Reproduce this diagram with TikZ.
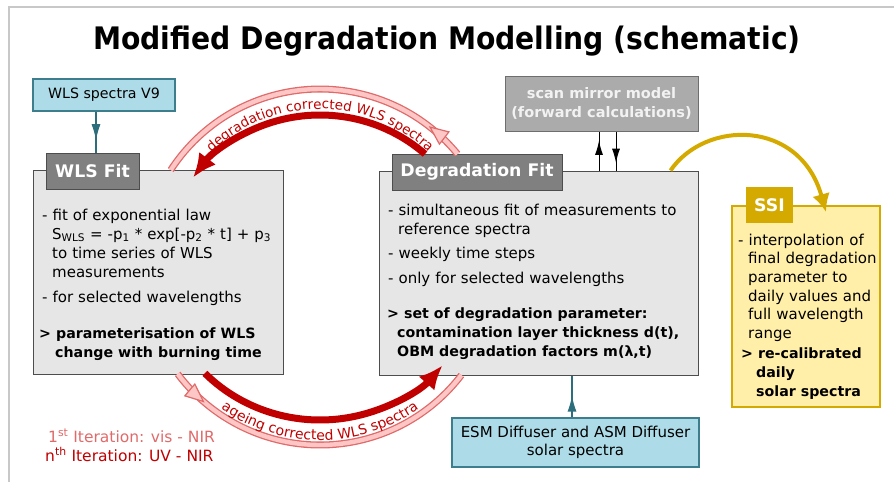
\documentclass[tikz,border=0pt]{standalone}
\usepackage{fontspec}
\setmainfont{DejaVu Sans}
\newfontfamily\titlefont[FakeStretch=0.91]{DejaVu Sans}
\usetikzlibrary{arrows.meta,decorations.markings,decorations.text,calc}
\definecolor{boxgray}{HTML}{E6E6E6}
\definecolor{bordergray}{HTML}{4D4D4D}
\definecolor{hdrgray}{HTML}{808080}
\definecolor{scangray}{HTML}{ABABAB}
\definecolor{scanborder}{HTML}{6E6E6E}
\definecolor{scantext}{HTML}{F2F2F2}
\definecolor{lblue}{HTML}{ADDCE8}
\definecolor{tealb}{HTML}{3C7E8C}
\definecolor{teala}{HTML}{2C6E7C}
\definecolor{dred}{HTML}{C00000}
\definecolor{lred}{HTML}{E06A6A}
\definecolor{pinkf}{HTML}{FFC6C6}
\definecolor{goldc}{HTML}{D4AA00}
\definecolor{lyellow}{HTML}{FFEFA8}
\definecolor{framegray}{HTML}{C8C8C8}
\begin{document}
\begin{tikzpicture}[x=1pt,y=1pt,
 mainbox/.style={draw=bordergray, fill=boxgray, line width=1pt, inner sep=0pt},
 hdr/.style={draw=bordergray, fill=hdrgray, line width=1pt, inner sep=0pt, text=white, font=\fontsize{17.3}{20}\selectfont\bfseries},
 bluebox/.style={draw=tealb, fill=lblue, line width=1.2pt, inner sep=0pt, align=center},
 body/.style={anchor=base west, inner sep=0pt, align=left, text width=#1, font=\fontsize{15}{19}\selectfont},
 tealconn/.style={draw=teala, line width=1.3pt, postaction={decorate}, decoration={markings, mark=at position #1 with {\arrow{Latex[length=16pt,width=9pt,color=teala]}}}},
 blkconn/.style={draw=black, line width=0.9pt, postaction={decorate}, decoration={markings, mark=at position #1 with {\arrow{Latex[length=14pt,width=8pt,color=black]}}}},
 darkarc/.style={draw=dred, line width=7pt, -{Latex[length=24pt,width=21pt]}},
 lightarc/.style={draw=lred, line width=7pt, postaction={draw=pinkf, line width=4.4pt}, postaction={decorate, decoration={markings, mark=at position #1 with {\arrow{Triangle[length=20pt,width=17pt,fill=pinkf,color=lred,line width=1.2pt]}}}}},
 arctext/.style={decorate, decoration={text along path, text align=center, text={#1}}},
 goldarrow/.style={draw=goldc, line width=4pt, -{Latex[length=18pt,width=18pt]}},
 legend/.style={anchor=base west, inner sep=0pt, font=\fontsize{15.5}{18}\selectfont}
]
\useasboundingbox (0,0) rectangle (894,-482);
% frame
\draw[framegray, line width=1.2pt] (894,-7) -- (9,-7) -- (9,-482);
% title
\node[anchor=base, inner sep=0pt, font=\titlefont\fontsize{31}{36}\selectfont\bfseries] (title) at (447,-49) {Modified Degradation Modelling (schematic)};

% boxes
\node[mainbox, minimum width=250pt, minimum height=204pt] (wls) at (158,-272) {};
\node[hdr, minimum width=93pt, minimum height=36pt] (hwls) at (92.5,-171) {WLS Fit};
\node[mainbox, minimum width=319pt, minimum height=204pt] (deg) at (538.5,-273) {};
\node[hdr, minimum width=170pt, minimum height=36pt] (hdeg) at (477,-172) {Degradation Fit};
\node[draw=scanborder, fill=scangray, line width=1pt, inner sep=0pt, minimum width=193pt, minimum height=55pt, align=center, text=scantext, font=\fontsize{14.5}{19}\selectfont\bfseries] (scan) at (601.5,-103.5) {scan mirror model\\(forward calculations)};
\node[bluebox, minimum width=142pt, minimum height=32pt, font=\fontsize{14.2}{18}\selectfont] (spec) at (104,-95) {WLS spectra V9};
\node[bluebox, minimum width=247pt, minimum height=49pt, font=\fontsize{15}{18}\selectfont] (esm) at (575.5,-442.5) {ESM Diffuser and ASM Diffuser\\solar spectra};
\node[draw=goldc, fill=lyellow, line width=2pt, inner sep=0pt, minimum width=148pt, minimum height=201pt] (ssi) at (806,-306.5) {};
\node[fill=goldc, text=white, inner sep=0pt, minimum width=47pt, minimum height=36pt, font=\fontsize{17.3}{20}\selectfont\bfseries] (hssi) at (769.5,-205) {SSI};

% box texts
\node[body=240pt] (wlstext) at (42,-220) {- fit of exponential law\\
\hspace*{10pt}S\textsubscript{WLS} = -p\textsubscript{1} * exp[-p\textsubscript{2} * t] + p\textsubscript{3}\\
\hspace*{10pt}to time series of WLS\\
\hspace*{10pt}measurements\\[6pt]
- for selected wavelengths\\[17pt]
{\fontsize{14.2}{19}\selectfont\bfseries\hspace*{-3pt}> parameterisation of WLS}\\
{\fontsize{14.2}{19}\selectfont\bfseries\hspace*{13pt}change with burning time}};

\node[body=305pt] (degtext) at (388,-215) {- simultaneous fit of measurements to\\
\hspace*{10pt}reference spectra\\[5pt]
- weekly time steps\\[6pt]
- only for selected wavelengths\\[16pt]
{\fontsize{14.2}{19}\selectfont\bfseries\hspace*{-1pt}> set of degradation parameter:}\\
{\fontsize{14.2}{19}\selectfont\bfseries\hspace*{9pt}contamination layer thickness d(t),}\\
{\fontsize{14.2}{19}\selectfont\bfseries\hspace*{9pt}OBM degradation factors m(λ,t)}};

\node[body=160pt, font=\fontsize{15}{18.7}\selectfont] (ssitext) at (738,-245) {- interpolation of\\
\hspace*{10pt}final degradation\\
\hspace*{10pt}parameter to\\
\hspace*{10pt}daily values and\\
\hspace*{10pt}full wavelength\\
\hspace*{10pt}range\\[1.5pt]
{\fontsize{14.2}{19}\selectfont\bfseries\hspace*{3pt}> re-calibrated}\\
{\fontsize{14.2}{19}\selectfont\bfseries\hspace*{18pt}daily}\\
{\fontsize{14.2}{19}\selectfont\bfseries\hspace*{18pt}solar spectra}};

% straight connectors
\coordinate (xa) at (96,0);
\coordinate (xe) at (572,0);
\coordinate (xu) at (599,0);
\coordinate (xd) at (616,0);
\draw[tealconn=0.7] (spec.south -| xa) -- (hwls.north -| xa);
\draw[tealconn=0.52] (esm.north -| xe) -- (deg.south -| xe);
\draw[blkconn=0.76] (deg.north -| xu) -- (scan.south -| xu);
\draw[blkconn=0.8] (scan.south -| xd) -- (deg.north -| xd);

% gold arrow to SSI
\draw[goldarrow] ($(deg.north east)+(-28,0)$) .. controls +(35,51) and +(-26,93) .. ($(ssi.north)+(20,-7)$);

% iteration loop
\coordinate (cc) at (320,-267);
\draw[lightarc=0.12] ($(cc)+(39.4:178)$) arc[start angle=39.4, end angle=147, radius=178];
\draw[lightarc=0.12] ($(cc)+(216.9:178)$) arc[start angle=216.9, end angle=322.6, radius=178];
\draw[darkarc] ($(cc)+({157*cos(48)},{152*sin(48)})$) arc[start angle=48, end angle=144, x radius=157, y radius=152];
\draw[darkarc] ($(cc)+({160*cos(224)},{153*sin(224)})$) arc[start angle=224, end angle=320, x radius=160, y radius=153];
\path[arctext={|\fontsize{13.5}{16}\selectfont\color{dred}|degradation corrected WLS spectra}] ($(cc)+(150:158)$) arc[start angle=150, end angle=30, radius=158];
\path[arctext={|\fontsize{14}{16}\selectfont\color{dred}|ageing corrected WLS spectra}] ($(cc)+(210:173)$) arc[start angle=210, end angle=330, radius=173];

% legend
\node[legend, text=lred] (it1) at (48,-442) {1\textsuperscript{st} Iteration: vis - NIR};
\node[legend, text=dred] (itn) at (45,-461) {n\textsuperscript{th} Iteration: UV - NIR};
\end{tikzpicture}
\end{document}
